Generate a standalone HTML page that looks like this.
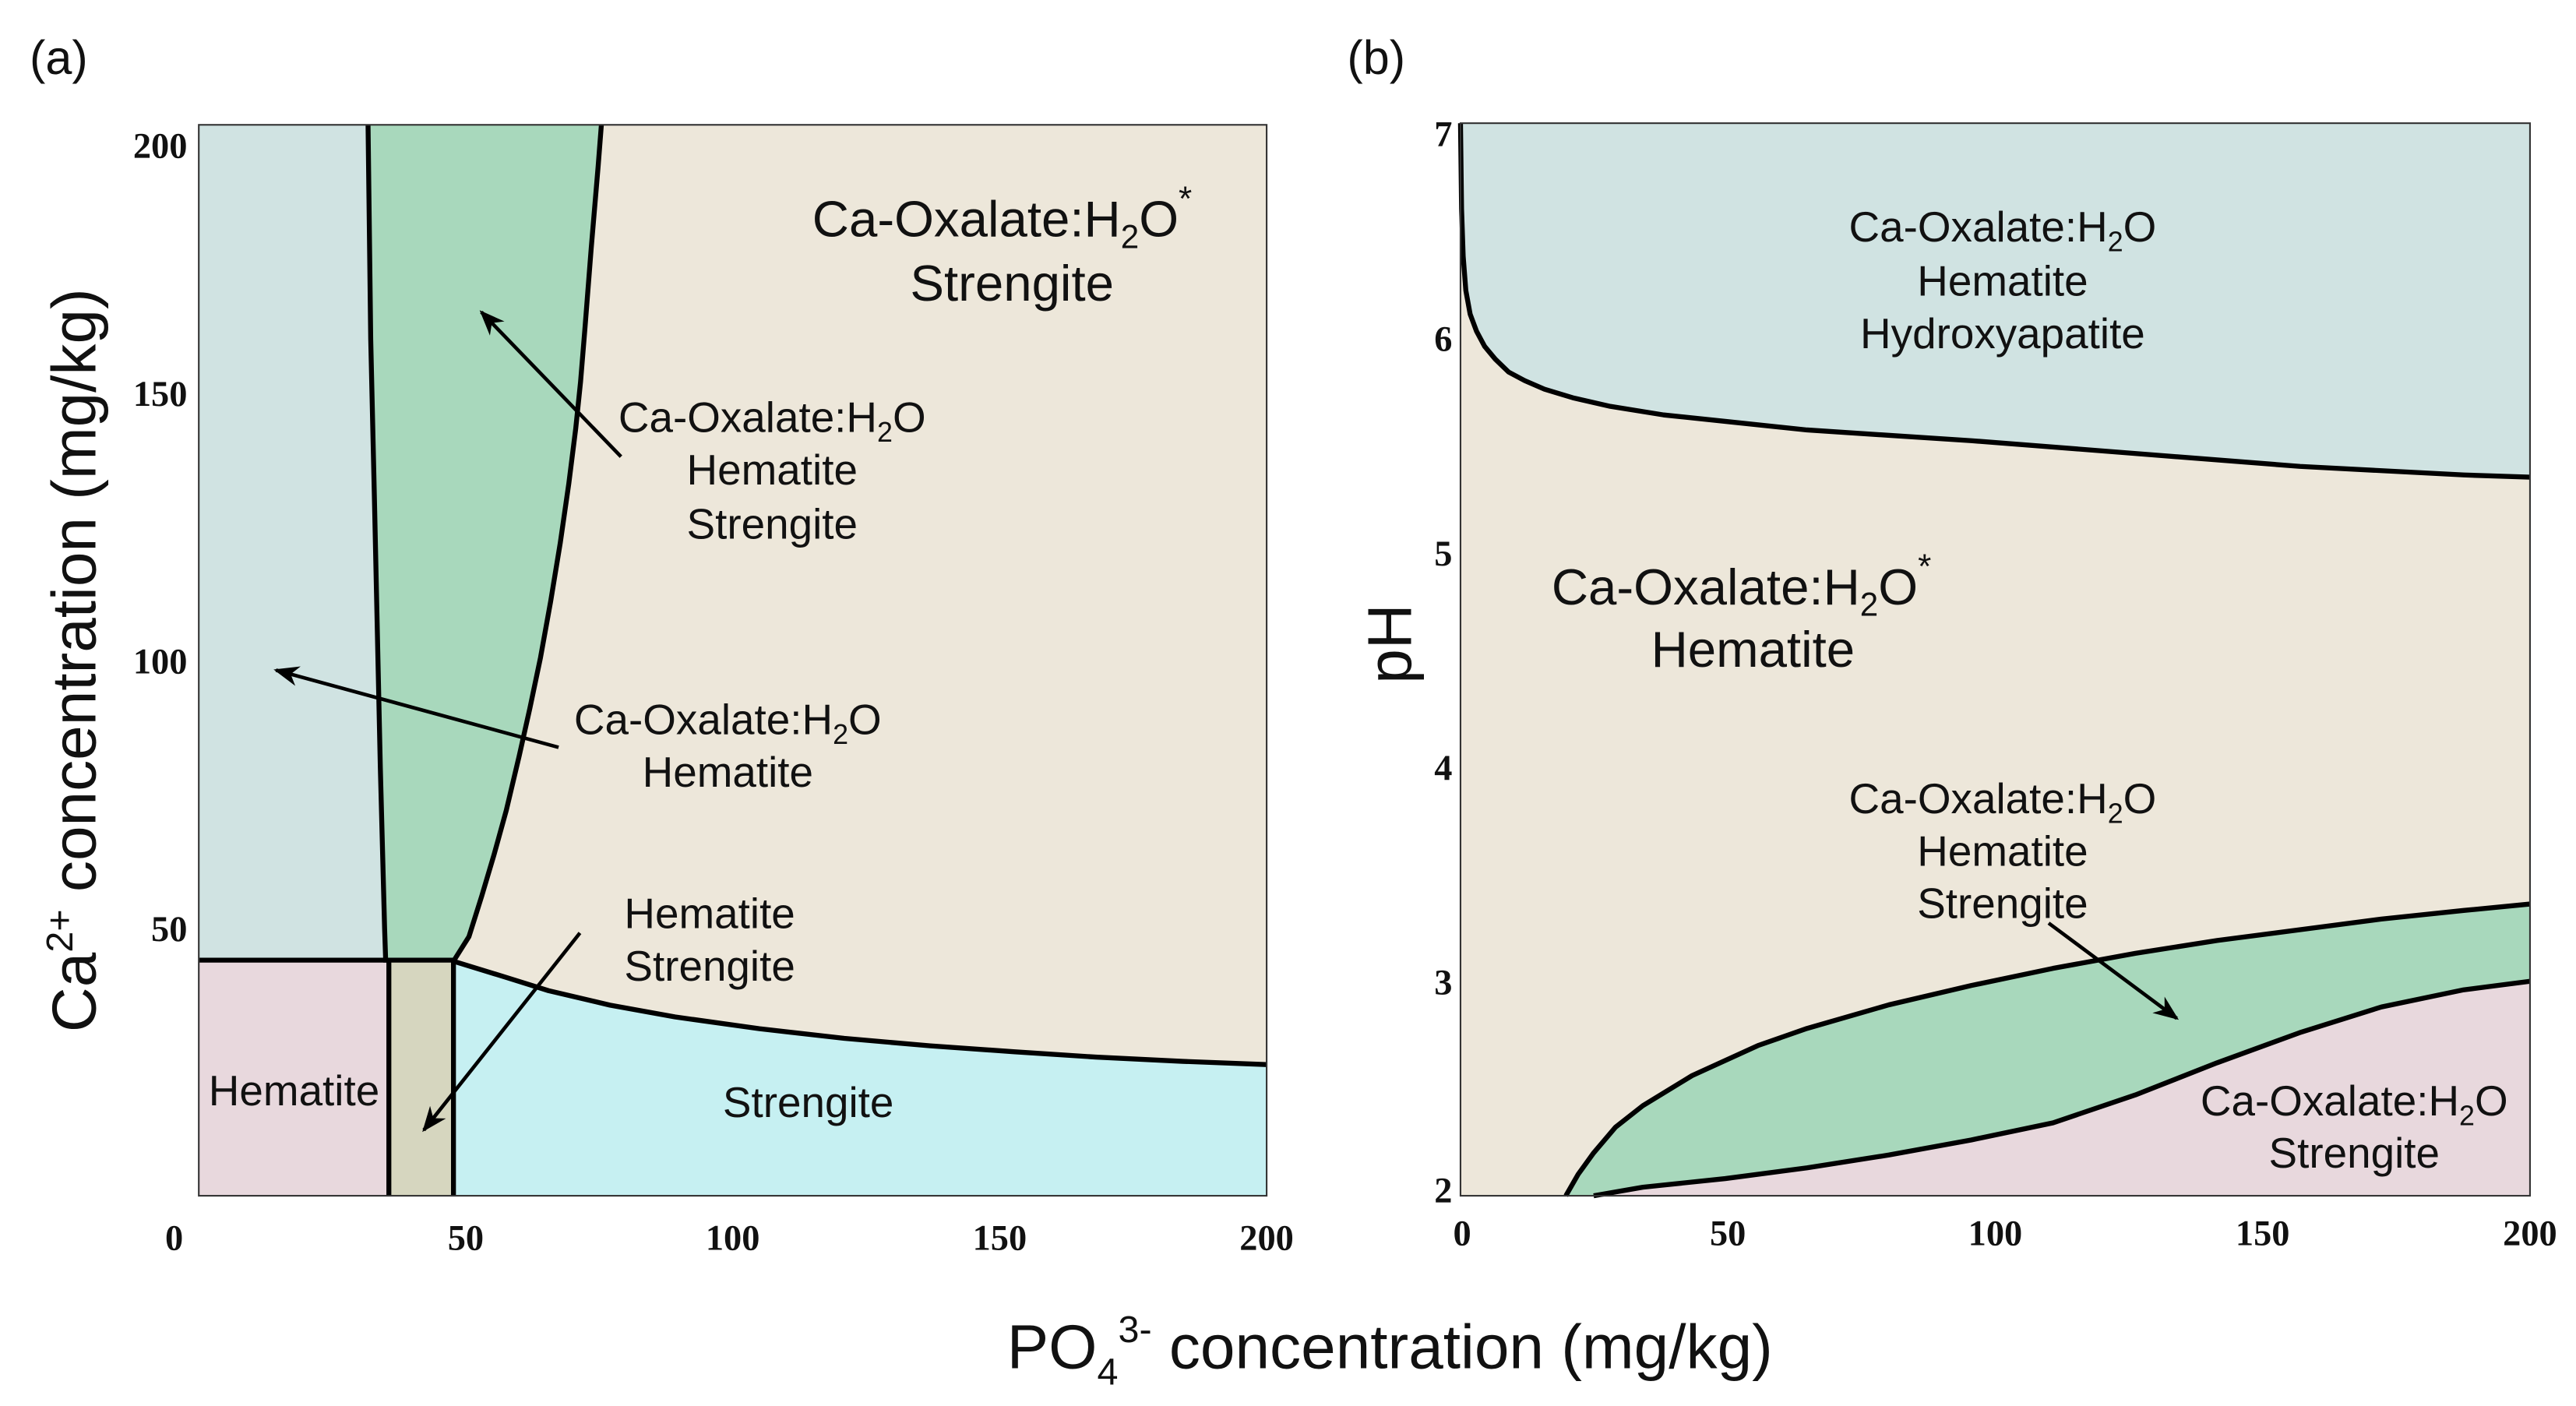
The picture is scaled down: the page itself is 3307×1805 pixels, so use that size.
<!DOCTYPE html>
<html><head><meta charset="utf-8">
<style>
html,body{margin:0;padding:0;background:#fff;}
svg{display:block;}
text{font-family:"Liberation Sans",Arial,sans-serif;fill:#111;}
.tick{font-family:"Liberation Serif",serif;font-weight:bold;font-size:22px;}
.lab{font-size:26px;}
.big{font-size:31px;}
</style></head>
<body>
<svg id="fig" width="3307" height="1805" viewBox="0 0 1568 856" preserveAspectRatio="none" xmlns="http://www.w3.org/2000/svg">
<defs>
<marker id="ah" viewBox="0 0 10 10" refX="9" refY="5" markerWidth="7" markerHeight="7" orient="auto"><path d="M0,1 L10,5 L0,9 L3,5 Z" fill="#000"/></marker>
</defs>
<g id="pa"></g>
<g id="pb"></g>

<text x="18" y="45" style="font-size:29px">(a)</text>
<text x="820" y="45" style="font-size:29px">(b)</text>

<text transform="translate(58,402) rotate(-90)" text-anchor="middle" style="font-size:38px">Ca<tspan dy="-14" style="font-size:23px">2+</tspan><tspan dy="14"> concentration (mg/kg)</tspan></text>
<text transform="translate(859,392) rotate(-90)" text-anchor="middle" style="font-size:38px">pH</text>
<text x="846" y="833" text-anchor="middle" style="font-size:38px">PO<tspan dy="10" style="font-size:23px">4</tspan><tspan dy="-26" style="font-size:23px">3-</tspan><tspan dy="16"> concentration (mg/kg)</tspan></text>

<!-- panel a labels -->
<text class="big" x="610" y="144" text-anchor="middle">Ca-Oxalate:H<tspan dy="7" style="font-size:20px">2</tspan><tspan dy="-7">O</tspan><tspan dy="-16" style="font-size:21px">*</tspan></text>
<text class="big" x="616" y="183" text-anchor="middle">Strengite</text>
<text class="lab" x="470" y="263" text-anchor="middle">Ca-Oxalate:H<tspan dy="6" style="font-size:17px">2</tspan><tspan dy="-6">O</tspan></text>
<text class="lab" x="470" y="295" text-anchor="middle">Hematite</text>
<text class="lab" x="470" y="328" text-anchor="middle">Strengite</text>
<text class="lab" x="443" y="447" text-anchor="middle">Ca-Oxalate:H<tspan dy="6" style="font-size:17px">2</tspan><tspan dy="-6">O</tspan></text>
<text class="lab" x="443" y="479" text-anchor="middle">Hematite</text>
<text class="lab" x="432" y="565" text-anchor="middle">Hematite</text>
<text class="lab" x="432" y="597" text-anchor="middle">Strengite</text>
<text class="lab" x="179" y="673" text-anchor="middle">Hematite</text>
<text class="lab" x="492" y="680" text-anchor="middle">Strengite</text>
<line x1="378" y1="278" x2="293" y2="190" stroke="#000" stroke-width="2.2" marker-end="url(#ah)"/>
<line x1="340" y1="455" x2="168" y2="408" stroke="#000" stroke-width="2.2" marker-end="url(#ah)"/>
<line x1="353" y1="568" x2="258" y2="688" stroke="#000" stroke-width="2.2" marker-end="url(#ah)"/>

<!-- panel b labels -->
<text class="lab" x="1219" y="147" text-anchor="middle">Ca-Oxalate:H<tspan dy="6" style="font-size:17px">2</tspan><tspan dy="-6">O</tspan></text>
<text class="lab" x="1219" y="180" text-anchor="middle">Hematite</text>
<text class="lab" x="1219" y="212" text-anchor="middle">Hydroxyapatite</text>
<text class="big" x="1060" y="368" text-anchor="middle">Ca-Oxalate:H<tspan dy="7" style="font-size:20px">2</tspan><tspan dy="-7">O</tspan><tspan dy="-16" style="font-size:21px">*</tspan></text>
<text class="big" x="1067" y="406" text-anchor="middle">Hematite</text>
<text class="lab" x="1219" y="495" text-anchor="middle">Ca-Oxalate:H<tspan dy="6" style="font-size:17px">2</tspan><tspan dy="-6">O</tspan></text>
<text class="lab" x="1219" y="527" text-anchor="middle">Hematite</text>
<text class="lab" x="1219" y="559" text-anchor="middle">Strengite</text>
<line x1="1247" y1="562" x2="1325" y2="620" stroke="#000" stroke-width="2.2" marker-end="url(#ah)"/>
<text class="lab" x="1433" y="679" text-anchor="middle">Ca-Oxalate:H<tspan dy="6" style="font-size:17px">2</tspan><tspan dy="-6">O</tspan></text>
<text class="lab" x="1433" y="711" text-anchor="middle">Strengite</text>
</svg>
<script>
// ---- Panel A data (PO4 mg/kg, Ca mg/kg) ----
const aXTicks = [0, 50, 100, 150, 200];
const aYTicks = [50, 100, 150, 200];
const aHLineY = 44;
const aLeftUpperCa = [44, 50, 80, 130, 160, 200];
const aLeftUpperPO4 = [35.0, 34.8, 34.0, 32.9, 32.2, 31.7];
const aLeftLowerPO4 = 35.6;
const aRightCa = [43.8, 48.4, 56, 63.7, 72, 82.1, 91, 100.5, 111, 121.9, 133, 143.3, 152, 161.7, 177, 192.3, 200];
const aRightPO4 = [47.7, 50.6, 53.0, 55.3, 57.6, 60.0, 62.0, 64.0, 65.9, 67.7, 69.3, 70.6, 71.5, 72.3, 73.5, 74.8, 75.4];
const aStrengPO4 = [47.7, 57.5, 65.5, 77, 89.2, 105, 120.9, 137, 152.6, 168, 184.3, 200];
const aStrengCa = [43.8, 40.8, 38.3, 35.6, 33.4, 31.2, 29.4, 28.0, 26.9, 25.9, 25.1, 24.5];
// ---- Panel B data (PO4 mg/kg, pH) ----
const bXTicks = [0, 50, 100, 150, 200];
const bYTicks = [2, 3, 4, 5, 6, 7];
const bUpperPO4 = [0, 0.2, 0.5, 1.0, 1.8, 3.0, 4.5, 6.5, 9, 12, 15.7, 21, 28, 38, 49.5, 64.8, 80, 95.5, 126.3, 157, 187.7, 200];
const bUpperPH = [7, 6.6, 6.38, 6.22, 6.11, 6.03, 5.96, 5.9, 5.84, 5.8, 5.76, 5.72, 5.68, 5.64, 5.61, 5.57, 5.545, 5.52, 5.46, 5.4, 5.36, 5.35];
const bGreenTopPO4 = [19.7, 22, 24.9, 29, 34.1, 43.3, 55.6, 64.8, 80.1, 95.5, 110.8, 126.2, 141.5, 156.9, 172.2, 187.6, 200];
const bGreenTopPH = [2, 2.1, 2.2, 2.32, 2.42, 2.56, 2.7, 2.78, 2.89, 2.98, 3.06, 3.13, 3.19, 3.24, 3.29, 3.33, 3.36];
const bGreenBotPO4 = [24.9, 34.1, 49.5, 64.8, 80.1, 95.5, 110.8, 126.2, 141.5, 156.9, 172.2, 187.6, 200];
const bGreenBotPH = [2, 2.04, 2.08, 2.13, 2.19, 2.26, 2.34, 2.47, 2.62, 2.76, 2.88, 2.96, 3.0];

const NS = "http://www.w3.org/2000/svg";
function mk(parent, tag, attrs) {
  const e = document.createElementNS(NS, tag);
  for (const k in attrs) e.setAttribute(k, attrs[k]);
  parent.appendChild(e);
  return e;
}
function pts(arr) { return arr.map(p => p[0].toFixed(2) + "," + p[1].toFixed(2)).join(" "); }

// Panel A axes
const axL = 121, axR = 771, ayT = 76, ayB = 728;
const ax = v => axL + (v / 200) * (axR - axL);
const ay = v => ayB - (v / 200) * (ayB - ayT);
const pa = document.getElementById("pa");
let e;
e = mk(pa, "rect", {x: axL, y: ayT, width: axR - axL, height: ayB - ayT, fill: "#ede7da"});


const leftUp = aLeftUpperCa.map((c, i) => [ax(aLeftUpperPO4[i]), ay(c)]);
e = mk(pa, "polygon", {points: pts([[ax(0), ay(aHLineY)]].concat(leftUp).concat([[ax(0), ay(200)]])), fill: "#d0e3e2"});


const rightPts = aRightCa.map((c, i) => [ax(aRightPO4[i]), ay(c)]);
e = mk(pa, "polygon", {points: pts(leftUp.concat(rightPts.slice().reverse())), fill: "#a8d8bc"});


e = mk(pa, "rect", {x: ax(0), y: ay(aHLineY), width: ax(aLeftLowerPO4) - ax(0), height: ay(0) - ay(aHLineY), fill: "#e8d8dd"});


e = mk(pa, "rect", {x: ax(aLeftLowerPO4), y: ay(aHLineY), width: ax(aRightPO4[0]) - ax(aLeftLowerPO4), height: ay(0) - ay(aHLineY), fill: "#d6d6bf"});


const strPts = aStrengPO4.map((p, i) => [ax(p), ay(aStrengCa[i])]);
e = mk(pa, "polygon", {points: pts([[ax(aStrengPO4[0]), ay(0)]].concat(strPts).concat([[ax(200), ay(0)]])), fill: "#c6f0f2"});


const lw = 3;
e = mk(pa, "polyline", {points: pts(leftUp.slice().reverse().concat([[ax(aLeftLowerPO4), ay(aHLineY)], [ax(aLeftLowerPO4), ay(0)]])), fill: "none", stroke: "#000", "stroke-width": lw});


e = mk(pa, "polyline", {points: pts(rightPts), fill: "none", stroke: "#000", "stroke-width": lw, "stroke-linejoin": "round"});


e = mk(pa, "line", {x1: ax(0), y1: ay(aHLineY), x2: ax(aRightPO4[0]), y2: ay(aHLineY), stroke: "#000", "stroke-width": lw});


e = mk(pa, "line", {x1: ax(aStrengPO4[0]), y1: ay(aHLineY), x2: ax(aStrengPO4[0]), y2: ay(0), stroke: "#000", "stroke-width": lw});


e = mk(pa, "polyline", {points: pts(strPts), fill: "none", stroke: "#000", "stroke-width": lw, "stroke-linejoin": "round"});


e = mk(pa, "rect", {x: axL, y: ayT, width: axR - axL, height: ayB - ayT, fill: "none", stroke: "#333", "stroke-width": 1});


aXTicks.forEach(t => {
  const tx = mk(pa, "text", {x: t === 0 ? ax(t) - 15 : ax(t), y: 761, "text-anchor": "middle", class: "tick"});
  tx.textContent = t;
  
  
});
aYTicks.forEach(t => {
  const tx = mk(pa, "text", {x: 114, y: (t === 200 ? ay(t) + 20 : ay(t) + 8), "text-anchor": "end", class: "tick"});
  tx.textContent = t;
  
  
});

// Panel B axes
const bxL = 889, bxR = 1540, byT = 75, byB = 728;
const bx = v => bxL + (v / 200) * (bxR - bxL);
const by = v => byB - ((v - 2) / 5) * (byB - byT);
const pb = document.getElementById("pb");
e = mk(pb, "rect", {x: bxL, y: byT, width: bxR - bxL, height: byB - byT, fill: "#ede7da"});


const upPts = bUpperPO4.map((p, i) => [bx(p), by(bUpperPH[i])]);
e = mk(pb, "polygon", {points: pts(upPts.concat([[bx(200), by(7)]])), fill: "#d0e3e2"});


const gTop = bGreenTopPO4.map((p, i) => [bx(p), by(bGreenTopPH[i])]);
const gBot = bGreenBotPO4.map((p, i) => [bx(p), by(bGreenBotPH[i])]);
e = mk(pb, "polygon", {points: pts(gTop.concat(gBot.slice().reverse())), fill: "#a8d8bc"});


e = mk(pb, "polygon", {points: pts(gBot.concat([[bx(200), by(2)]])), fill: "#e8d8dd"});


[[upPts, 'boundary-hydroxyapatite'], [gTop, 'boundary-green-top'], [gBot, 'boundary-green-bottom']].forEach(pr => {
  const l = mk(pb, "polyline", {points: pts(pr[0]), fill: "none", stroke: "#000", "stroke-width": lw, "stroke-linejoin": "round"});
  
  
});
e = mk(pb, "rect", {x: bxL, y: byT, width: bxR - bxL, height: byB - byT, fill: "none", stroke: "#333", "stroke-width": 1});


bXTicks.forEach(t => {
  const tx = mk(pb, "text", {x: t === 0 ? bx(t) + 1 : bx(t), y: 758, "text-anchor": "middle", class: "tick"});
  tx.textContent = t;
  
  
});
bYTicks.forEach(t => {
  const tx = mk(pb, "text", {x: 884, y: (t === 7 ? by(t) + 14 : (t === 2 ? by(t) + 4 : by(t) + 8)), "text-anchor": "end", class: "tick"});
  tx.textContent = t;
  
  
});
</script>
</body></html>
